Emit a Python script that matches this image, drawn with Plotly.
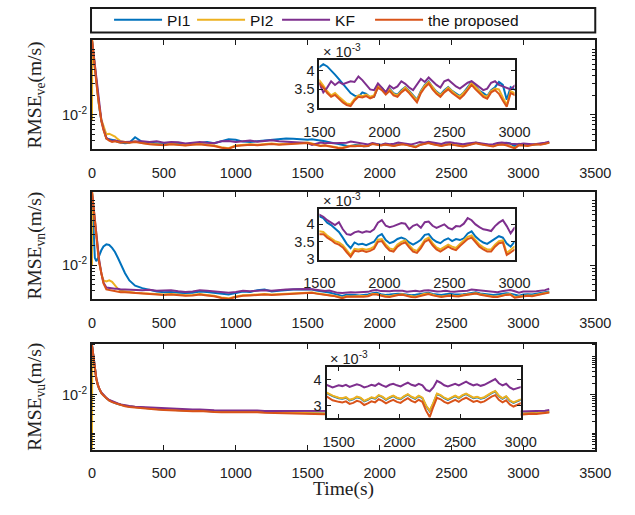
import math
import plotly.graph_objects as go

# ---- sample times (s) ----
t = [0, 2, 10, 20, 30, 40, 50, 65, 80, 100, 120, 140, 160, 180, 200, 230, 260, 300,
     350, 400, 450, 500, 550, 600, 650, 700, 750, 800, 850, 900, 950, 1000, 1050,
     1100, 1150, 1200, 1250, 1300, 1350, 1400, 1450,
     1500, 1530, 1560, 1590, 1620, 1650, 1680, 1710, 1740, 1770,
     1800, 1830, 1860, 1890, 1920, 1950, 1980, 2010, 2040, 2070,
     2100, 2130, 2160, 2190, 2220, 2250, 2280, 2310, 2340, 2370,
     2400, 2430, 2460, 2490, 2520, 2550, 2580, 2610, 2640, 2670,
     2700, 2730, 2760, 2790, 2820, 2850, 2880, 2910, 2940, 2970,
     3000, 3030, 3060, 3090, 3120, 3150, 3180]

# ---- RMSE of east velocity (x1e-3 m/s) ----
pi1_ve = [140, 126, 91, 55, 32, 20, 13, 8.1, 5.9, 4.3, 4.2, 4.1, 4.0, 3.8, 3.7, 3.65, 3.7, 4.5,
          3.8, 3.7, 3.6, 3.55, 3.7, 3.6, 3.5, 3.55, 3.7, 3.8, 3.65, 3.9, 4.2, 4.1, 3.85, 3.8, 3.9, 4.0, 4.1, 4.15, 4.3, 4.25, 4.2,
          4.10, 4.18, 4.12, 4.02, 3.90, 3.78, 3.66, 3.52, 3.40, 3.33,
          3.30, 3.42, 3.38, 3.28, 3.30, 3.58, 3.54, 3.42, 3.52, 3.40,
          3.36, 3.48, 3.56, 3.46, 3.34, 3.22, 3.46, 3.62, 3.72, 3.56,
          3.44, 3.36, 3.48, 3.56, 3.46, 3.38, 3.32, 3.42, 3.56, 3.70,
          3.58, 3.46, 3.40, 3.32, 3.48, 3.56, 3.70, 3.62, 3.22, 3.56,
          3.5, 3.4, 3.45, 3.5, 3.5, 3.6, 3.75]
pi2_ve = [8, 140, 92, 56, 33, 21, 13.5, 8.5, 6.5, 5.0, 5.1, 4.9, 4.6, 4.2, 3.9, 3.8, 3.75, 3.9,
          3.65, 3.55, 3.5, 3.45, 3.55, 3.45, 3.4, 3.5, 3.55, 3.45, 3.35, 3.15, 3.05, 3.35, 3.45, 3.5, 3.45, 3.55, 3.6, 3.5, 3.55, 3.65, 3.7,
          3.74, 3.60, 3.45, 3.34, 3.40, 3.30, 3.20, 3.12, 3.10, 3.24,
          3.34, 3.32, 3.36, 3.30, 3.34, 3.60, 3.52, 3.40, 3.50, 3.38,
          3.34, 3.46, 3.55, 3.44, 3.32, 3.20, 3.44, 3.60, 3.70, 3.55,
          3.42, 3.34, 3.46, 3.55, 3.45, 3.36, 3.30, 3.40, 3.52, 3.68,
          3.56, 3.44, 3.34, 3.30, 3.46, 3.52, 3.50, 3.28, 3.08, 3.45,
          3.4, 3.35, 3.45, 3.5, 3.5, 3.6, 3.75]
kf_ve = [140, 128, 92, 56, 33, 21, 13.5, 8.3, 6.0, 4.4, 4.1, 3.9, 4.0, 3.9, 3.85, 3.8, 3.85, 3.9,
         3.9, 3.8, 3.9, 3.7, 3.8, 3.75, 3.6, 3.7, 3.8, 3.7, 3.65, 3.9, 3.95, 3.8, 3.9, 4.0, 3.85, 3.9, 4.05, 3.9, 3.85, 3.8, 3.75,
         3.66, 3.42, 3.55, 3.72, 3.62, 3.70, 3.64, 3.68, 3.72, 3.70,
         3.85, 3.75, 3.62, 3.50, 3.48, 3.66, 3.55, 3.42, 3.60, 3.52,
         3.58, 3.72, 3.65, 3.55, 3.48, 3.62, 3.78, 3.70, 3.82, 3.72,
         3.62, 3.55, 3.72, 3.76, 3.66, 3.58, 3.52, 3.60, 3.68, 3.72,
         3.64, 3.55, 3.48, 3.52, 3.68, 3.72, 3.62, 3.58, 3.55, 3.50,
         3.6, 3.55, 3.5, 3.55, 3.6, 3.7, 3.85]
prop_ve = [140, 125, 90, 55, 32, 20, 13, 8, 5.8, 4.3, 4.0, 3.8, 3.9, 3.8, 3.7, 3.75, 3.7, 3.8,
           3.6, 3.5, 3.45, 3.4, 3.5, 3.4, 3.35, 3.45, 3.5, 3.4, 3.3, 3.1, 3.0, 3.3, 3.4, 3.45, 3.4, 3.5, 3.55, 3.45, 3.5, 3.6, 3.65,
           3.66, 3.55, 3.40, 3.30, 3.35, 3.25, 3.15, 3.08, 3.05, 3.20,
           3.30, 3.28, 3.32, 3.26, 3.30, 3.55, 3.48, 3.36, 3.46, 3.34,
           3.30, 3.42, 3.50, 3.40, 3.28, 3.15, 3.40, 3.55, 3.66, 3.50,
           3.38, 3.30, 3.42, 3.50, 3.40, 3.32, 3.25, 3.35, 3.48, 3.62,
           3.50, 3.40, 3.30, 3.25, 3.42, 3.48, 3.38, 3.20, 3.03, 3.40,
           3.35, 3.3, 3.4, 3.5, 3.45, 3.55, 3.7]

# ---- RMSE of north velocity (x1e-3 m/s) ----
pi1_vn = [135, 110, 40, 13, 11.5, 12.5, 14, 17, 19.5, 21, 20.5, 18.5, 16, 13, 10.5, 7.5, 5.8, 4.8,
          4.4, 4.1, 3.9, 3.8, 3.85, 3.75, 3.7, 3.75, 3.9, 3.85, 3.7, 3.6, 3.5, 3.7, 3.9, 3.85, 4.1, 4.2, 3.9, 4.0, 4.15, 4.2, 4.25,
          4.23, 4.18, 4.05, 3.98, 3.88, 3.78, 3.62, 3.44, 3.32, 3.48,
          3.42, 3.44, 3.40, 3.45, 3.50, 3.66, 3.72, 3.55, 3.46, 3.50,
          3.58, 3.62, 3.58, 3.48, 3.42, 3.48, 3.56, 3.70, 3.72, 3.58,
          3.50, 3.46, 3.55, 3.60, 3.52, 3.58, 3.55, 3.60, 3.74, 3.80,
          3.65, 3.55, 3.48, 3.44, 3.52, 3.58, 3.66, 3.62, 3.45, 3.36,
          3.5, 3.55, 3.5, 3.6, 3.65, 3.75, 3.9]
pi2_vn = [10, 135, 86, 51, 29, 17.5, 11.5, 7.5, 5.8, 5.6, 5.8, 5.5, 4.8, 4.3, 4.0, 3.9, 3.8, 3.75,
          3.66, 3.61, 3.56, 3.51, 3.56, 3.46, 3.41, 3.46, 3.56, 3.46, 3.36, 3.16, 3.06, 3.26, 3.41, 3.46, 3.51, 3.56, 3.51, 3.56, 3.61, 3.66, 3.71,
          3.80, 3.78, 3.68, 3.60, 3.52, 3.48, 3.40, 3.26, 3.12, 3.30,
          3.28, 3.30, 3.27, 3.30, 3.36, 3.56, 3.58, 3.42, 3.31, 3.28,
          3.42, 3.50, 3.54, 3.40, 3.28, 3.24, 3.38, 3.56, 3.62, 3.46,
          3.34, 3.28, 3.36, 3.42, 3.36, 3.32, 3.44, 3.54, 3.64, 3.68,
          3.54, 3.42, 3.34, 3.28, 3.28, 3.42, 3.52, 3.54, 3.18, 3.26,
          3.36, 3.4, 3.36, 3.46, 3.5, 3.6, 3.8]
kf_vn = [135, 122, 88, 52, 30, 18, 12, 7.5, 5.4, 4.5, 4.4, 4.4, 4.3, 4.3, 4.2, 4.2, 4.15, 4.1,
         4.1, 4.15, 4.0, 4.05, 4.1, 3.95, 3.85, 3.9, 4.1, 4.0, 3.9, 3.8, 3.75, 3.85, 4.0, 3.95, 4.05, 4.1, 4.0, 4.15, 4.2, 4.25, 4.3,
         4.28, 4.22, 4.12, 4.05, 3.98, 4.06, 3.86, 3.72, 3.70, 3.77,
         3.80, 3.76, 3.80, 3.78, 3.86, 4.05, 4.12, 3.96, 3.92, 3.95,
         4.00, 4.04, 4.02, 3.86, 3.96, 4.00, 3.90, 4.06, 4.08, 3.96,
         3.90, 3.94, 4.00, 3.90, 3.86, 3.95, 3.94, 4.02, 4.18, 4.12,
         4.00, 3.92, 3.86, 3.84, 3.81, 3.95, 4.05, 4.12, 3.95, 3.74,
         3.9, 3.85, 3.9, 3.95, 4.0, 4.1, 4.3]
prop_vn = [135, 120, 85, 50, 28, 17, 11, 7, 5.2, 4.2, 4.1, 4.0, 3.9, 3.9, 3.8, 3.8, 3.75, 3.7,
           3.6, 3.55, 3.5, 3.45, 3.5, 3.4, 3.35, 3.4, 3.5, 3.4, 3.3, 3.1, 3.0, 3.2, 3.35, 3.4, 3.45, 3.5, 3.45, 3.5, 3.55, 3.6, 3.65,
           3.72, 3.72, 3.62, 3.55, 3.46, 3.42, 3.34, 3.20, 3.07, 3.24,
           3.22, 3.25, 3.21, 3.24, 3.30, 3.50, 3.52, 3.36, 3.25, 3.22,
           3.36, 3.44, 3.48, 3.34, 3.22, 3.18, 3.32, 3.50, 3.56, 3.40,
           3.28, 3.22, 3.30, 3.36, 3.30, 3.26, 3.38, 3.48, 3.58, 3.62,
           3.48, 3.36, 3.28, 3.22, 3.22, 3.36, 3.46, 3.48, 3.12, 3.20,
           3.3, 3.35, 3.3, 3.4, 3.45, 3.55, 3.75]

# ---- RMSE of up velocity (x1e-3 m/s) ----
pi1_vu = [200, 171, 96, 46, 26.5, 18.5, 14.2, 11.2, 9.6, 8.1, 7.1, 6.5, 6.05, 5.75, 5.45, 5.15, 4.95, 4.75,
          4.53, 4.38, 4.23, 4.13, 4.03, 3.93, 3.98, 3.83, 3.88, 3.73, 3.68, 3.63, 3.63, 3.58, 3.63, 3.73, 3.63, 3.53, 3.48, 3.43, 3.43, 3.48, 3.36,
          3.28, 3.26, 3.30, 3.20, 3.24, 3.32, 3.28, 3.16, 3.22, 3.30,
          3.26, 3.38, 3.32, 3.22, 3.30, 3.36, 3.28, 3.24, 3.34, 3.42,
          3.32, 3.26, 3.36, 3.28, 2.98, 2.78, 3.08, 3.44, 3.38, 3.28,
          3.22, 3.30, 3.36, 3.28, 3.38, 3.44, 3.36, 3.28, 3.32, 3.26,
          3.30, 3.40, 3.48, 3.54, 3.36, 3.26, 3.34, 3.18, 3.10, 3.16,
          3.23, 3.28, 3.33, 3.28, 3.33, 3.43, 3.58]
pi2_vu = [0.37, 172, 96, 46, 26.5, 18.5, 14.3, 11.3, 9.7, 8.2, 7.2, 6.6, 6.1, 5.8, 5.5, 5.2, 5.0, 4.8,
          4.55, 4.4, 4.25, 4.15, 4.05, 3.95, 4.0, 3.85, 3.9, 3.75, 3.7, 3.65, 3.65, 3.6, 3.65, 3.75, 3.65, 3.55, 3.5, 3.45, 3.45, 3.5, 3.38,
          3.30, 3.28, 3.32, 3.22, 3.26, 3.34, 3.30, 3.18, 3.24, 3.32,
          3.28, 3.40, 3.34, 3.24, 3.32, 3.38, 3.30, 3.26, 3.36, 3.44,
          3.34, 3.28, 3.38, 3.30, 3.00, 2.80, 3.10, 3.46, 3.40, 3.30,
          3.24, 3.32, 3.38, 3.30, 3.40, 3.46, 3.38, 3.30, 3.34, 3.28,
          3.32, 3.42, 3.50, 3.56, 3.38, 3.28, 3.36, 3.20, 3.12, 3.18,
          3.25, 3.3, 3.35, 3.3, 3.35, 3.45, 3.6]
kf_vu = [200, 172, 97, 46, 27, 19, 14.5, 11.5, 9.8, 8.3, 7.3, 6.7, 6.2, 5.9, 5.6, 5.3, 5.1, 4.9,
         4.8, 4.65, 4.5, 4.4, 4.3, 4.2, 4.25, 4.1, 4.15, 4.0, 3.95, 3.9, 3.9, 3.85, 3.9, 4.0, 3.9, 3.8, 3.8, 3.75, 3.75, 3.8, 3.7,
         3.78, 3.75, 3.80, 3.72, 3.76, 3.82, 3.78, 3.70, 3.74, 3.80,
         3.76, 3.85, 3.78, 3.72, 3.80, 3.84, 3.78, 3.74, 3.82, 3.88,
         3.80, 3.76, 3.84, 3.78, 3.60, 3.55, 3.70, 3.95, 3.88, 3.78,
         3.74, 3.80, 3.84, 3.78, 3.86, 3.92, 3.84, 3.78, 3.82, 3.76,
         3.80, 3.88, 3.96, 4.02, 3.86, 3.78, 3.84, 3.70, 3.62, 3.66,
         3.7, 3.75, 3.8, 3.7, 3.75, 3.85, 4.0]
prop_vu = [200, 170, 95, 45, 26, 18, 14, 11, 9.5, 8.0, 7.0, 6.4, 6.0, 5.6, 5.3, 5.0, 4.8, 4.6,
           4.4, 4.25, 4.1, 4.0, 3.9, 3.8, 3.85, 3.7, 3.75, 3.6, 3.55, 3.5, 3.5, 3.45, 3.5, 3.6, 3.5, 3.4, 3.35, 3.3, 3.3, 3.35, 3.2,
           3.14, 3.12, 3.16, 3.06, 3.10, 3.18, 3.14, 3.02, 3.08, 3.16,
           3.12, 3.24, 3.18, 3.08, 3.16, 3.22, 3.14, 3.10, 3.20, 3.28,
           3.18, 3.12, 3.22, 3.14, 2.80, 2.55, 2.95, 3.30, 3.24, 3.14,
           3.08, 3.16, 3.22, 3.14, 3.24, 3.30, 3.22, 3.14, 3.18, 3.12,
           3.16, 3.26, 3.34, 3.40, 3.22, 3.12, 3.20, 3.04, 2.96, 3.02,
           3.1, 3.15, 3.2, 3.15, 3.2, 3.3, 3.45]

names = ["PI1", "PI2", "KF", "the proposed"]
colors = ["#0072BD", "#EDB120", "#7E2F8E", "#D95319"]
legend_widths = [20, 22, 30, 100]
panels = [
    ("ve", [pi1_ve, pi2_ve, kf_ve, prop_ve]),
    ("vn", [pi1_vn, pi2_vn, kf_vn, prop_vn]),
    ("vu", [pi1_vu, pi2_vu, kf_vu, prop_vu]),
]

main_xticks = [0, 500, 1000, 1500, 2000, 2500, 3000, 3500]
inset_xticks = [1500, 2000, 2500, 3000]

W, H = 635, 515
AX = "#1a1a1a"
SANS = "Liberation Sans, Arial, sans-serif"
SERIF = "Liberation Serif, Times New Roman, serif"


def fx(x):
    """pixel column -> paper x"""
    return x / W


def fy(y):
    """pixel row (from top) -> paper y"""
    return 1 - y / H


# main panel boxes (top, bottom) and log ranges
main_boxes = [(40.7, 151.5), (195, 304), (349, 457)]
main_ranges = [(0.00295, 0.14), (0.00296, 0.136), (0.000366, 0.215)]
# inset boxes (left, right, top, bottom) and ranges
inset_boxes = [(319.5, 525, 60.7, 110), (319.5, 525, 212, 264), (327, 531.5, 372.5, 425)]
inset_xranges = [(1500, 3000), (1500, 3000), (1400, 3000)]
inset_yranges = [(0.00299, 0.0043), (0.00298, 0.00445), (0.0025, 0.0045)]
inset_yticks = [[0.003, 0.0035, 0.004], [0.003, 0.0035, 0.004], [0.003, 0.004]]
inset_ytext = [["3", "3.5", "4"], ["3", "3.5", "4"], ["3", "4"]]

fig = go.Figure()

for p, (key, series) in enumerate(panels):
    main_id = p + 1
    ins_id = p + 4
    mx = "x" if main_id == 1 else f"x{main_id}"
    my = "y" if main_id == 1 else f"y{main_id}"
    for s, vals in enumerate(series):
        y = [v * 1e-3 for v in vals]
        fig.add_trace(go.Scatter(
            x=t, y=y, mode="lines", name=names[s],
            line=dict(color=colors[s], width=2),
            showlegend=(p == 0), legendgroup=names[s], legendwidth=legend_widths[s],
            xaxis=mx, yaxis=my))
    for s, vals in enumerate(series):
        y = [v * 1e-3 for v in vals]
        fig.add_trace(go.Scatter(
            x=t, y=y, mode="lines", name=names[s],
            line=dict(color=colors[s], width=2),
            showlegend=False, legendgroup=names[s],
            xaxis=f"x{ins_id}", yaxis=f"y{ins_id}"))

layout = dict(
    width=W, height=H,
    margin=dict(l=0, r=0, t=0, b=0),
    paper_bgcolor="white", plot_bgcolor="white",
    showlegend=True,
    legend=dict(orientation="h", x=fx(98), y=fy(20.5), xanchor="left", yanchor="middle",
                bgcolor="rgba(0,0,0,0)", borderwidth=0, itemwidth=48,
                font=dict(family=SANS, size=15.5, color="#111"),
                tracegroupgap=0),
)

for p in range(3):
    main_id = p + 1
    sfx = "" if main_id == 1 else str(main_id)
    top, bottom = main_boxes[p]
    lo, hi = main_ranges[p]
    decades = range(math.floor(math.log10(lo)), math.ceil(math.log10(hi)) + 1)
    minor_vals = [m * 10 ** d for d in decades for m in range(1, 10)
                  if lo <= m * 10 ** d <= hi and not (m == 1 and d == -2)]
    layout["xaxis" + sfx] = dict(
        domain=[fx(80), fx(610)], range=[0, 3500], anchor="y" + sfx,
        tickmode="array", tickvals=main_xticks,
        ticks="inside", ticklen=5, tickwidth=1, tickcolor=AX,
        showline=True, linewidth=2, linecolor=AX, mirror="ticks",
        showgrid=False, zeroline=False, ticklabelstandoff=9,
        tickfont=dict(family=SANS, size=14.5, color="#222"))
    layout["yaxis" + sfx] = dict(
        domain=[fy(bottom), fy(top)], type="log",
        range=[math.log10(lo), math.log10(hi)], anchor="x" + sfx,
        tickmode="array", tickvals=[0.01], ticktext=["10<sup>-2</sup>"],
        ticks="inside", ticklen=5, tickwidth=1, tickcolor=AX,
        minor=dict(tickmode="array", tickvals=minor_vals, ticks="inside",
                   ticklen=3, tickwidth=1, tickcolor=AX),
        showline=True, linewidth=2, linecolor=AX, mirror="ticks",
        showgrid=False, zeroline=False,
        tickfont=dict(family=SANS, size=14.5, color="#222"))

    ins_id = p + 4
    l, r, it, ib = inset_boxes[p]
    xlo, xhi = inset_xranges[p]
    ylo, yhi = inset_yranges[p]
    layout[f"xaxis{ins_id}"] = dict(
        domain=[fx(l), fx(r)], range=[xlo, xhi], anchor=f"y{ins_id}",
        tickmode="array", tickvals=inset_xticks,
        ticks="inside", ticklen=4, tickwidth=1, tickcolor=AX,
        showline=True, linewidth=2, linecolor=AX, mirror="ticks",
        showgrid=False, zeroline=False, ticklabelstandoff=9,
        tickfont=dict(family=SANS, size=14.5, color="#222"))
    layout[f"yaxis{ins_id}"] = dict(
        domain=[fy(ib), fy(it)], range=[ylo, yhi], anchor=f"x{ins_id}",
        tickmode="array", tickvals=inset_yticks[p], ticktext=inset_ytext[p],
        ticks="inside", ticklen=4, tickwidth=1, tickcolor=AX,
        showline=True, linewidth=2, linecolor=AX, mirror="ticks",
        showgrid=False, zeroline=False,
        tickfont=dict(family=SANS, size=14.5, color="#222"))

fig.update_layout(**layout)

shapes = []
# white backing under each inset so the main curves do not show through
for p in range(3):
    ins_id = p + 4
    shapes.append(dict(type="rect", xref=f"x{ins_id} domain", yref=f"y{ins_id} domain",
                       x0=0, x1=1, y0=0, y1=1, fillcolor="white",
                       line=dict(width=0), layer="below"))
# legend frame
shapes.append(dict(type="rect", xref="paper", yref="paper",
                   x0=fx(79), x1=fx(610), y0=fy(33), y1=fy(8),
                   line=dict(color=AX, width=2), fillcolor="rgba(0,0,0,0)"))
fig.update_layout(shapes=shapes)

annotations = []
ytitles = ["RMSE<sub>ve</sub>(m/s)", "RMSE<sub>vn</sub>(m/s)", "RMSE<sub>vu</sub>(m/s)"]
for p in range(3):
    top, bottom = main_boxes[p]
    annotations.append(dict(text=ytitles[p], xref="paper", yref="paper",
                            x=fx(21), y=fy((top + bottom) / 2),
                            xanchor="center", yanchor="middle", textangle=-90,
                            showarrow=False, font=dict(family=SERIF, size=19.5, color="#222")))
    l, r, it, ib = inset_boxes[p]
    annotations.append(dict(text="× 10<sup>-3</sup>", xref="paper", yref="paper",
                            x=fx(l + 2), y=fy(it - 9),
                            xanchor="left", yanchor="middle",
                            showarrow=False, font=dict(family=SANS, size=14.5, color="#222")))
annotations.append(dict(text="Time(s)", xref="paper", yref="paper",
                        x=fx(345), y=fy(497), xanchor="center", yanchor="middle",
                        showarrow=False, font=dict(family=SERIF, size=19.5, color="#222")))
fig.update_layout(annotations=annotations)

fig.write_html("out.html")
